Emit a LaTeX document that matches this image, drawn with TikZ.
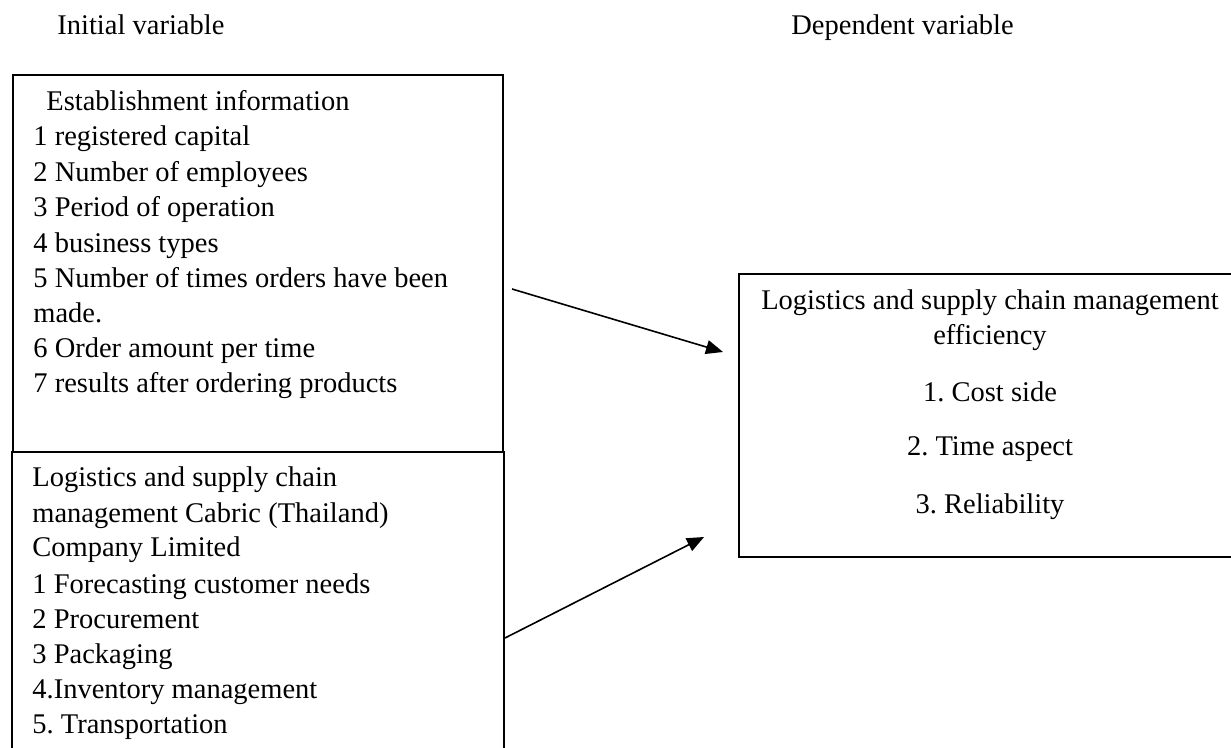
\documentclass[tikz,border=0pt]{standalone}
\usepackage{fontspec}
\setmainfont{Liberation Serif}
\usetikzlibrary{arrows.meta}
\frenchspacing
\begin{document}
\begin{tikzpicture}[x=0.5pt,y=-0.5pt,
  txt/.style={inner sep=0pt, font=\fontsize{14.25}{17}\selectfont},
  box/.style={draw, line width=0.8pt, inner sep=0pt},
  arr/.style={line width=0.8pt, -{Triangle[length=8.5pt,width=7pt]}}]
\useasboundingbox (0,0) rectangle (1231,748);
\begin{scope}
\clip (0,0) rectangle (1231,748);
% boxes
\node[box, anchor=north west, minimum width=245pt, minimum height=188.5pt] (est) at (12,74) {};
\node[box, anchor=north west, minimum width=246pt, minimum height=160pt] (lsc) at (11,451) {};
\node[box, anchor=north west, minimum width=254pt, minimum height=141.5pt] (eff) at (738,273) {};
\end{scope}
% titles
\node[txt, anchor=base west] (t1) at (57,35) {Initial variable};
\node[txt, anchor=base west] (t2) at (791,35) {Dependent variable};
% box 1 text
\node[txt, anchor=base west] (e0) at (46,111) {Establishment information};
\foreach \yy/\lin [count=\i] in {146/{1 registered capital}, 182/{2 Number of employees}, 217/{3 Period of operation}, 253/{4 business types}, 288/{5 Number of times orders have been}, 323/{made.}, 358/{6 Order amount per time}, 393/{7 results after ordering products}}
  \node[txt, anchor=base west] (e\i) at (33,\yy) {\lin};
% box 2 text
\foreach \yy/\lin [count=\i] in {486/{Logistics and supply chain}, 522/{management Cabric (Thailand)}, 556/{Company Limited}, 593/{1 Forecasting customer needs}, 628/{2 Procurement}, 663/{3 Packaging}, 698/{4.Inventory management}, 733/{5. Transportation}}
  \node[txt, anchor=base west] (l\i) at (32,\yy) {\lin};
% right box text
\foreach \yy/\lin [count=\i] in {310/{Logistics and supply chain management}, 345/{efficiency}, 401/{1. Cost side}, 456/{2. Time aspect}, 513/{3. Reliability}}
  \node[txt, anchor=base] (r\i) at (990,\yy) {\lin};
% arrows
\coordinate (a1s) at (512,289);
\coordinate (a1e) at (723,352);
\coordinate (a2s) at (505,638);
\coordinate (a2e) at (704,537);
\draw[arr] (a1s) -- (a1e);
\draw[arr] (a2s) -- (a2e);
\end{tikzpicture}
\end{document}
